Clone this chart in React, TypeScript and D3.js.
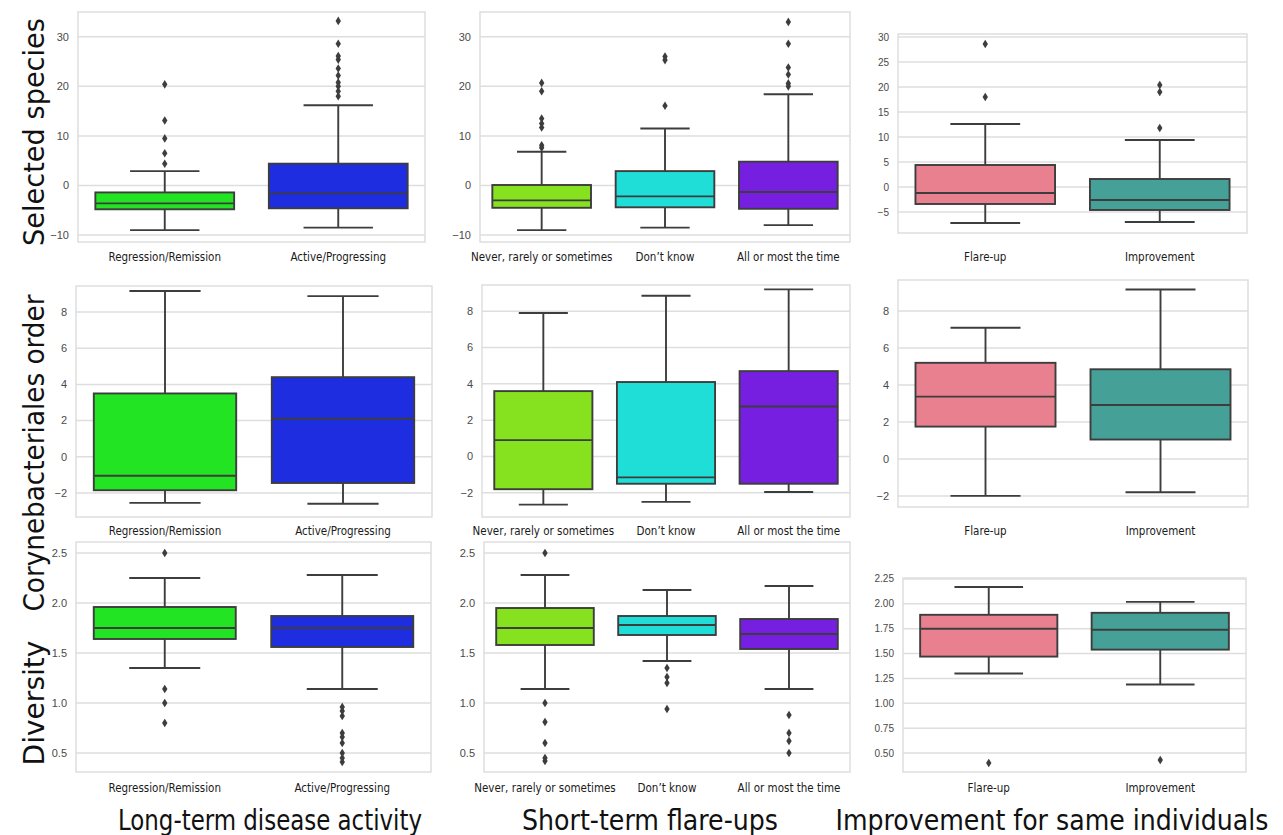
import React from 'react';
import * as d3 from 'd3';

type Box = { lo: number; q1: number; med: number; q3: number; hi: number; out: number[] };

// categories
const longTermCats = ['Regression/Remission', 'Active/Progressing'];
const shortTermCats = ['Never, rarely or sometimes', 'Don\u2019t know', 'All or most the time'];
const improvementCats = ['Flare-up', 'Improvement'];

// box colours per column
const longTermColors = ['#23e423', '#1f2de0'];
const shortTermColors = ['#86e11f', '#1fded7', '#761fe0'];
const improvementColors = ['#e8808f', '#45a097'];

// row 1: selected species
const speciesLongTerm: Box[] = [
  { lo: -9.0, q1: -4.8, med: -3.6, q3: -1.4, hi: 2.9, out: [4.4, 6.5, 9.5, 13.1, 20.4] },
  { lo: -8.5, q1: -4.6, med: -1.6, q3: 4.4, hi: 16.2, out: [18.0, 19.0, 20.0, 20.8, 22.2, 23.6, 25.4, 26.1, 28.6, 33.2] },
];
const speciesShortTerm: Box[] = [
  { lo: -9.0, q1: -4.5, med: -3.0, q3: 0.1, hi: 6.8, out: [7.6, 8.1, 11.7, 12.5, 13.5, 19.0, 20.7] },
  { lo: -8.5, q1: -4.4, med: -2.2, q3: 2.9, hi: 11.5, out: [16.1, 25.3, 26.0] },
  { lo: -8.0, q1: -4.7, med: -1.3, q3: 4.8, hi: 18.4, out: [20.0, 20.6, 22.4, 23.8, 28.6, 33.0] },
];
const speciesImprovement: Box[] = [
  { lo: -7.2, q1: -3.4, med: -1.2, q3: 4.4, hi: 12.6, out: [18.0, 28.6] },
  { lo: -7.0, q1: -4.6, med: -2.6, q3: 1.6, hi: 9.4, out: [11.8, 19.0, 20.4] },
];

// row 2: Corynebacteriales order
const coryneLongTerm: Box[] = [
  { lo: -2.55, q1: -1.85, med: -1.05, q3: 3.5, hi: 9.16, out: [] },
  { lo: -2.6, q1: -1.45, med: 2.1, q3: 4.4, hi: 8.88, out: [] },
];
const coryneShortTerm: Box[] = [
  { lo: -2.65, q1: -1.8, med: 0.9, q3: 3.6, hi: 7.9, out: [] },
  { lo: -2.5, q1: -1.5, med: -1.15, q3: 4.1, hi: 8.85, out: [] },
  { lo: -1.95, q1: -1.5, med: 2.75, q3: 4.7, hi: 9.2, out: [] },
];
const coryneImprovement: Box[] = [
  { lo: -2.0, q1: 1.75, med: 3.37, q3: 5.2, hi: 7.1, out: [] },
  { lo: -1.8, q1: 1.05, med: 2.92, q3: 4.85, hi: 9.17, out: [] },
];

// row 3: diversity
const diversityLongTerm: Box[] = [
  { lo: 1.35, q1: 1.64, med: 1.75, q3: 1.96, hi: 2.25, out: [0.8, 1.0, 1.14, 2.5] },
  { lo: 1.14, q1: 1.56, med: 1.75, q3: 1.87, hi: 2.28, out: [0.41, 0.45, 0.5, 0.6, 0.66, 0.7, 0.87, 0.92, 0.96] },
];
const diversityShortTerm: Box[] = [
  { lo: 1.14, q1: 1.58, med: 1.75, q3: 1.95, hi: 2.28, out: [0.42, 0.45, 0.6, 0.81, 1.0, 2.5] },
  { lo: 1.42, q1: 1.68, med: 1.78, q3: 1.87, hi: 2.13, out: [0.94, 1.2, 1.26, 1.35] },
  { lo: 1.14, q1: 1.54, med: 1.69, q3: 1.84, hi: 2.17, out: [0.5, 0.62, 0.7, 0.88] },
];
const diversityImprovement: Box[] = [
  { lo: 1.3, q1: 1.47, med: 1.75, q3: 1.89, hi: 2.17, out: [0.4] },
  { lo: 1.19, q1: 1.54, med: 1.74, q3: 1.91, hi: 2.02, out: [0.43] },
];

// tick values
const speciesTicks = [-10, 0, 10, 20, 30];
const speciesTicksFine = [-5, 0, 5, 10, 15, 20, 25, 30];
const coryneTicks = [-2, 0, 2, 4, 6, 8];
const diversityTicks = [0.5, 1.0, 1.5, 2.0, 2.5];
const diversityTicksFine = [0.5, 0.75, 1.0, 1.25, 1.5, 1.75, 2.0, 2.25];

const rowTitles = ['Selected species', 'Corynebacteriales order', 'Diversity'];
const colTitles = ['Long-term disease activity', 'Short-term flare-ups', 'Improvement for same individuals'];

const tickFont = "'Liberation Sans', Arial, sans-serif";
const labelFont = "'Liberation Sans Narrow', 'DejaVu Sans Condensed', Lato, sans-serif";

const panels = [
  { cats: longTermCats, boxes: speciesLongTerm, colors: longTermColors, x0: 78, x1: 425, y0: 12, y1: 242, domain: [-11.4, 35.0], ticks: speciesTicks, fmt: d3.format('d'), labelY: 257, fs: 11 },
  { cats: shortTermCats, boxes: speciesShortTerm, colors: shortTermColors, x0: 480, x1: 850, y0: 12, y1: 242, domain: [-11.4, 35.0], ticks: speciesTicks, fmt: d3.format('d'), labelY: 257, fs: 11 },
  { cats: improvementCats, boxes: speciesImprovement, colors: improvementColors, x0: 898, x1: 1247, y0: 34, y1: 233, domain: [-9.2, 30.6], ticks: speciesTicksFine, fmt: d3.format('d'), labelY: 257, fs: 10 },
  { cats: longTermCats, boxes: coryneLongTerm, colors: longTermColors, x0: 76, x1: 432, y0: 286, y1: 517, domain: [-3.33, 9.44], ticks: coryneTicks, fmt: d3.format('d'), labelY: 531, fs: 11 },
  { cats: shortTermCats, boxes: coryneShortTerm, colors: shortTermColors, x0: 482, x1: 850, y0: 285, y1: 517, domain: [-3.33, 9.44], ticks: coryneTicks, fmt: d3.format('d'), labelY: 531, fs: 11 },
  { cats: improvementCats, boxes: coryneImprovement, colors: improvementColors, x0: 898, x1: 1248, y0: 280, y1: 507, domain: [-2.6, 9.68], ticks: coryneTicks, fmt: d3.format('d'), labelY: 531, fs: 11 },
  { cats: longTermCats, boxes: diversityLongTerm, colors: longTermColors, x0: 76, x1: 431, y0: 542, y1: 772, domain: [0.31, 2.61], ticks: diversityTicks, fmt: d3.format('.1f'), labelY: 788, fs: 11 },
  { cats: shortTermCats, boxes: diversityShortTerm, colors: shortTermColors, x0: 484, x1: 850, y0: 542, y1: 772, domain: [0.31, 2.61], ticks: diversityTicks, fmt: d3.format('.1f'), labelY: 788, fs: 11 },
  { cats: improvementCats, boxes: diversityImprovement, colors: improvementColors, x0: 903, x1: 1246, y0: 578, y1: 772, domain: [0.31, 2.26], ticks: diversityTicksFine, fmt: d3.format('.2f'), labelY: 788, fs: 10 },
];

const EDGE = '#3d3d3d';
const GRID = '#dedede';
const LW = 1.9;

function Panel({ p }: { p: (typeof panels)[number] }) {
  const x = d3.scaleBand<string>().domain(p.cats).range([p.x0, p.x1]);
  const y = d3.scaleLinear().domain(p.domain).range([p.y1, p.y0]);
  const bw = x.bandwidth() * 0.8;
  const capW = bw / 2;
  const diamond = 'M0,-4.3L2.7,0L0,4.3L-2.7,0Z';
  return (
    <g>
      {p.ticks.map((t) => (
        <g key={t}>
          <line x1={p.x0} x2={p.x1} y1={y(t)} y2={y(t)} stroke={GRID} strokeWidth={1.5} />
          <text x={p.x0 - 9} y={y(t)} dy="0.35em" textAnchor="end" fontFamily={tickFont} fontSize={p.fs} fill="#4a4a4a">
            {p.fmt(t)}
          </text>
        </g>
      ))}
      <rect x={p.x0} y={p.y0} width={p.x1 - p.x0} height={p.y1 - p.y0} fill="none" stroke={GRID} strokeWidth={1.5} />
      {p.boxes.map((b, i) => {
        const cx = (x(p.cats[i]) as number) + x.bandwidth() / 2;
        return (
          <g key={i}>
            <line x1={cx} x2={cx} y1={y(b.q3)} y2={y(b.hi)} stroke={EDGE} strokeWidth={LW} />
            <line x1={cx} x2={cx} y1={y(b.q1)} y2={y(b.lo)} stroke={EDGE} strokeWidth={LW} />
            <line x1={cx - capW / 2} x2={cx + capW / 2} y1={y(b.hi)} y2={y(b.hi)} stroke={EDGE} strokeWidth={LW} />
            <line x1={cx - capW / 2} x2={cx + capW / 2} y1={y(b.lo)} y2={y(b.lo)} stroke={EDGE} strokeWidth={LW} />
            <rect x={cx - bw / 2} y={y(b.q3)} width={bw} height={y(b.q1) - y(b.q3)} fill={p.colors[i]} stroke={EDGE} strokeWidth={LW} />
            <line x1={cx - bw / 2} x2={cx + bw / 2} y1={y(b.med)} y2={y(b.med)} stroke={EDGE} strokeWidth={LW} />
            {b.out.map((o, j) => (
              <path key={j} d={diamond} transform={`translate(${cx},${y(o)})`} fill={EDGE} />
            ))}
            <text x={cx} y={p.labelY} dy="0.35em" textAnchor="middle" fontFamily={labelFont} fontSize={11.5} fill="#1a1a1a">
              {p.cats[i]}
            </text>
          </g>
        );
      })}
    </g>
  );
}

export default function App() {
  const rowY = [132, 453, 703];
  const rowLen = [228, 317, 125];
  const colX = [270, 650, 1052];
  const colLen = [304, 256, 433];
  return (
    <svg width={1283} height={835} style={{ position: 'absolute', left: 0, top: 0, background: '#fff' }}>
      <rect width={1283} height={835} fill="#fff" />
      {panels.map((p, i) => (
        <Panel key={i} p={p} />
      ))}
      {rowTitles.map((t, i) => (
        <text key={t} transform={`translate(34,${rowY[i]}) rotate(-90)`} textAnchor="middle" dominantBaseline="central"
          fontFamily={labelFont} fontSize={28} fill="#111" textLength={rowLen[i]} lengthAdjust="spacingAndGlyphs">
          {t}
        </text>
      ))}
      {colTitles.map((t, i) => (
        <text key={t} x={colX[i]} y={820} textAnchor="middle" dominantBaseline="central"
          fontFamily={labelFont} fontSize={28} fill="#111" textLength={colLen[i]} lengthAdjust="spacingAndGlyphs">
          {t}
        </text>
      ))}
    </svg>
  );
}
